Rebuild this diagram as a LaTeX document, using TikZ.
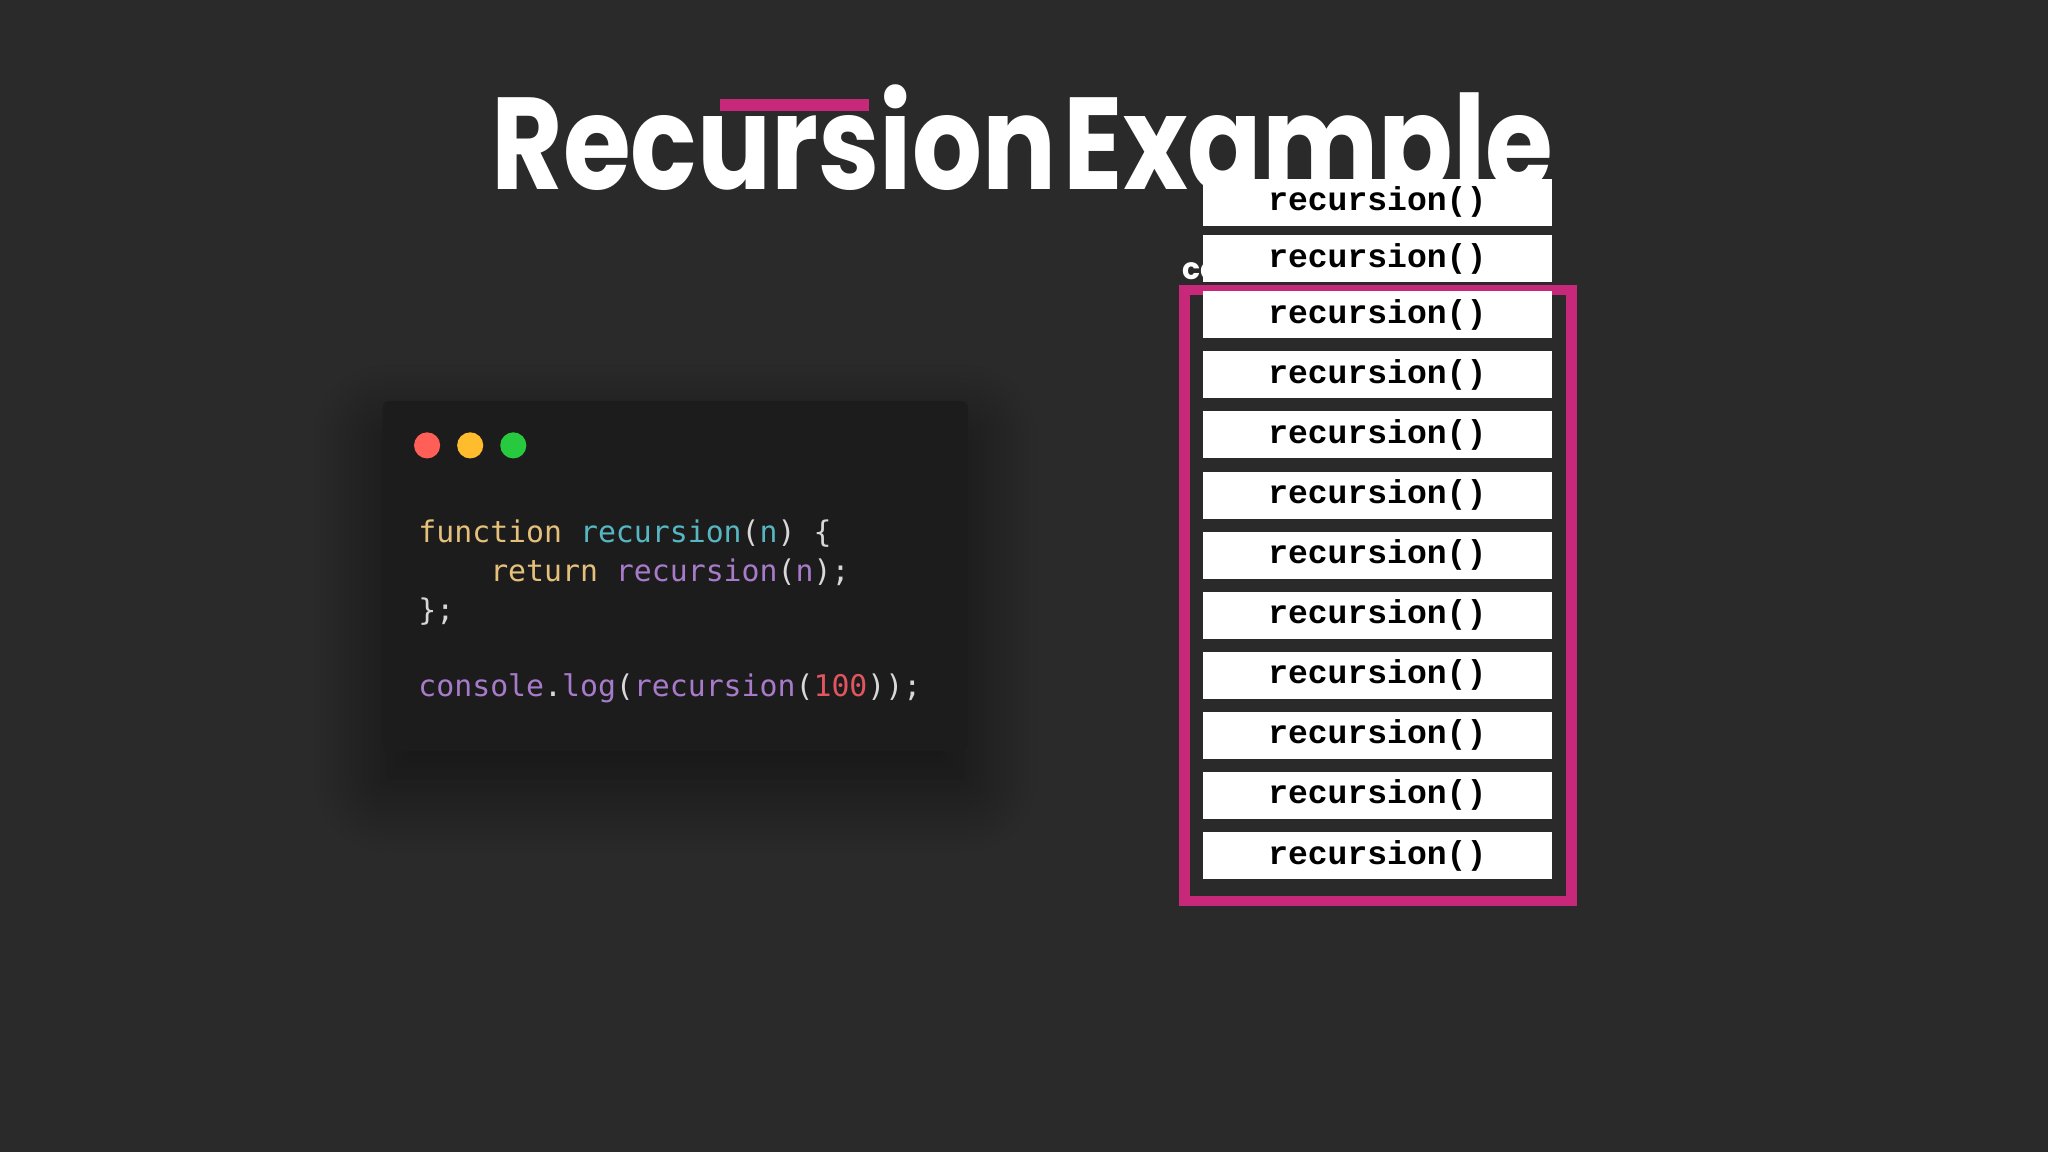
\documentclass[tikz,border=0pt]{standalone}
\usepackage{fontspec}
\setmainfont{Poppins}
\newfontfamily\titlefont[FakeStretch=0.84]{Poppins}
\newfontfamily\codefont{DejaVu Sans Mono}
\newfontfamily\stackfont{Liberation Mono}
\usetikzlibrary{shadows.blur}
\definecolor{bg}{HTML}{2B2A2B}
\definecolor{win}{HTML}{1C1C1D}
\definecolor{pinkc}{HTML}{C8287A}
\definecolor{cyel}{HTML}{E5C07B}
\definecolor{ccyan}{HTML}{56B6C2}
\definecolor{cpur}{HTML}{A77BC9}
\definecolor{cred}{HTML}{E0555F}
\definecolor{cwht}{HTML}{D8D8D8}
\tikzset{
  frame/.style={fill=white,draw=none,minimum width=267*0.02cm,minimum height=36*0.02cm,inner sep=0pt,
    font=\stackfont\bfseries\fontsize{14.4}{16}\selectfont,text=black},
  codeline/.style={anchor=base west,inner sep=0pt,font=\codefont\fontsize{13}{15}\selectfont},
  dot/.style={circle,minimum size=20*0.02cm,inner sep=0pt}
}
\begin{document}
\begin{tikzpicture}[x=0.02cm,y=-0.02cm]
\fill[bg] (0,0) rectangle (1568,882);
\useasboundingbox (0,0) rectangle (1568,882);
% title
\node[anchor=base west,inner sep=0pt,text=white,font=\titlefont\bfseries\fontsize{57}{60}\selectfont] (title) at (376,145) {Recursion\hspace{-0.12em} Example};
\fill[pinkc] (551,76) rectangle (665,85);
% code window
\node[fill=win,rounded corners=3pt,minimum width=448*0.02cm,minimum height=268*0.02cm,inner sep=0pt,
  blur shadow={shadow blur steps=12,shadow xshift=0pt,shadow yshift=-14pt,shadow blur radius=30pt,shadow opacity=55}] (win) at (517,441) {};
\node[dot,fill={rgb,255:red,255;green,95;blue,86}] (d1) at (327,341) {};
\node[dot,fill={rgb,255:red,255;green,189;blue,46}] (d2) at (360,341) {};
\node[dot,fill={rgb,255:red,39;green,201;blue,63}] (d3) at (393,341) {};
\node[codeline] (c1) at (320,415) {\textcolor{cyel}{function} \textcolor{ccyan}{recursion}\textcolor{cwht}{(}\textcolor{ccyan}{n}\textcolor{cwht}{) \{}};
\node[codeline] (c2) at (320,445) {\textcolor{cyel}{\ \ \ \ return} \textcolor{cpur}{recursion}\textcolor{cwht}{(}\textcolor{cpur}{n}\textcolor{cwht}{);}};
\node[codeline] (c3) at (320,475) {\textcolor{cwht}{\};}};
\node[codeline] (c4) at (320,533) {\textcolor{cpur}{console}\textcolor{cwht}{.}\textcolor{cpur}{log}\textcolor{cwht}{(}\textcolor{cpur}{recursion}\textcolor{cwht}{(}\textcolor{cred}{100}\textcolor{cwht}{));}};
% call stack
\node[anchor=base west,inner sep=0pt,text=white,font=\bfseries\fontsize{13}{15}\selectfont] (lbl) at (905,214) {call stack};
\draw[pinkc,line width=8*0.02cm] (907,222) rectangle (1203,690);
\foreach \i/\y in {1/155,2/198,3/241,4/287,5/333,6/379,7/425,8/471,9/517,10/563,11/609,12/655}{
  \node[frame] (f\i) at (1054.5,\y) {recursion()};
}
\end{tikzpicture}
\end{document}
